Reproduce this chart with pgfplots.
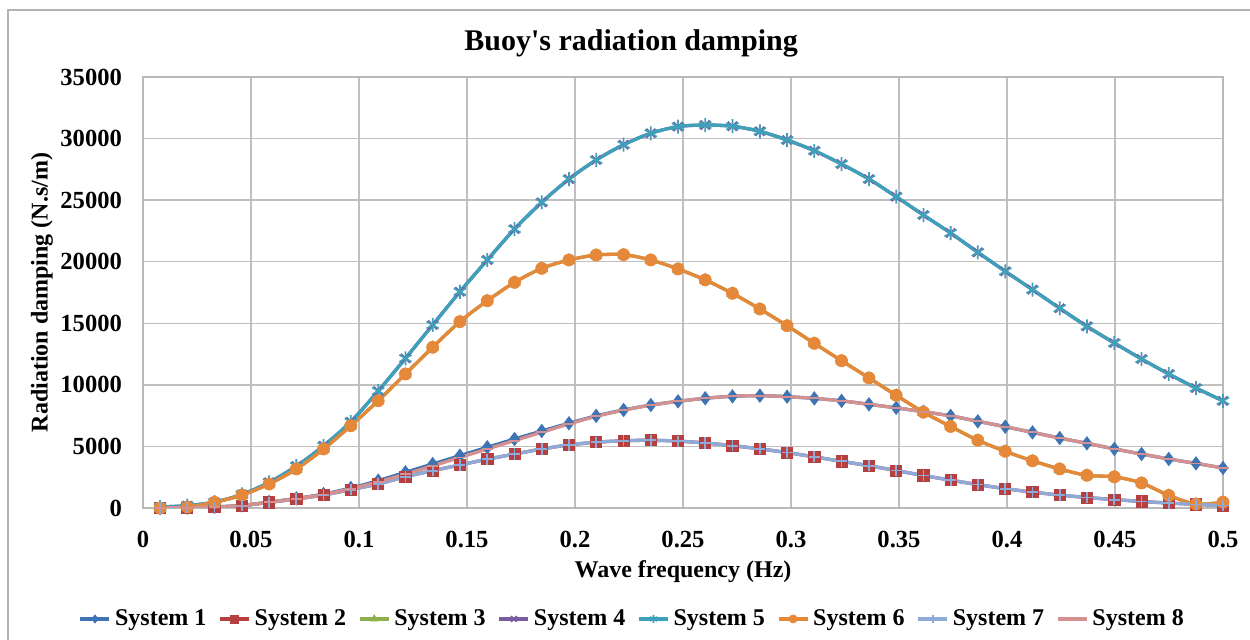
\documentclass[border=0pt]{standalone}
\usepackage{fontspec}
\setmainfont{Liberation Serif}
\newfontfamily\titlefont{Liberation Serif}
\usepackage{pgfplots}
\pgfplotsset{compat=1.18}
\usepackage{pgfplotstable}

\definecolor{c1}{HTML}{3E74B4}
\definecolor{c2}{HTML}{B5403F}
\definecolor{c3}{HTML}{8DB04C}
\definecolor{c4}{HTML}{7A5DA0}
\definecolor{c5}{HTML}{3FA0BA}
\definecolor{c6}{HTML}{E5883A}
\definecolor{c7}{HTML}{8EAAD8}
\definecolor{c8}{HTML}{D4918F}

\pgfplotstableread{
f      s1    s2    s5     s6     s7    s8
0.0079 0     0     80     0      0     0
0.0205 30    10    190    80     10    30
0.0331 90    60    480    460    60    90
0.0458 210   190   1100   1050   190   200
0.0584 480   460   2080   1950   460   470
0.0710 780   730   3400   3170   730   760
0.0836 1130  1060  5050   4790   1060  1100
0.0962 1620  1490  7000   6680   1490  1560
0.1089 2220  1950  9500   8710   1950  2120
0.1215 2900  2540  12150  10880  2540  2750
0.1341 3570  3030  14860  13050  3030  3420
0.1467 4250  3490  17560  15130  3490  4100
0.1594 4930  3960  20140  16830  3960  4790
0.1720 5600  4380  22650  18320  4380  5470
0.1846 6250  4790  24820  19460  4790  6150
0.1972 6880  5120  26710  20140  5120  6820
0.2098 7480  5340  28260  20540  5340  7440
0.2225 7960  5460  29500  20570  5460  7940
0.2351 8360  5500  30430  20140  5500  8350
0.2477 8660  5430  30970  19410  5430  8660
0.2603 8910  5280  31100  18520  5280  8910
0.2729 9070  5060  31000  17430  5060  9070
0.2856 9120  4800  30590  16160  4800  9120
0.2982 9040  4500  29880  14800  4500  9040
0.3108 8900  4150  29010  13370  4150  8900
0.3234 8700  3790  27930  11960  3790  8700
0.3361 8420  3430  26710  10560  3430  8420
0.3487 8130  3040  25280  9150   3040  8130
0.3613 7820  2640  23790  7780   2640  7820
0.3739 7480  2260  22330  6620   2260  7480
0.3865 7040  1900  20760  5500   1900  7040
0.3992 6600  1570  19220  4600   1570  6600
0.4118 6140  1290  17730  3830   1290  6140
0.4244 5680  1050  16220  3170   1050  5680
0.4370 5250  850   14750  2650   850   5250
0.4497 4800  680   13400  2530   680   4800
0.4623 4380  530   12100  2030   530   4380
0.4749 3980  400   10880  1020   400   3980
0.4875 3620  290   9740   320    290   3620
0.5000 3250  200   8700   470    200   3250
}\data

\begin{document}
\begin{tikzpicture}
\useasboundingbox (0,0) rectangle (625pt,320pt);
\draw[gray!60, line width=0.8pt] (4pt,-1pt) -- (4pt,315pt) -- (626pt,315pt);
\begin{axis}[
  at={(71.5pt,66pt)}, anchor=south west,
  width=540pt, height=215.5pt, scale only axis,
  xmin=0, xmax=0.5, ymin=0, ymax=35000,
  xtick={0,0.05,0.1,0.15,0.2,0.25,0.3,0.35,0.4,0.45,0.5},
  ytick={0,5000,10000,15000,20000,25000,30000,35000},
  grid=major, major grid style={gray!50, line width=0.7pt},
  axis line style={gray!55, line width=0.7pt},
  major tick length=0pt,
  scaled y ticks=false, scaled x ticks=false,
  /pgf/number format/assume math mode=true,
  ticklabel style={font=\bfseries\fontsize{12.3}{14}\selectfont},
  xticklabel style={/pgf/number format/fixed, /pgf/number format/precision=2, yshift=-8pt},
  yticklabel style={/pgf/number format/fixed, /pgf/number format/1000 sep={}, xshift=-7pt},
  title={Buoy's radiation damping},
  title style={at={(rel axis cs:0.452,1)}, anchor=center, yshift=11pt, font=\titlefont\bfseries\fontsize{15}{17}\selectfont},
  xlabel={Wave frequency (Hz)},
  xlabel style={at={(rel axis cs:0.5,0)}, anchor=center, yshift=-32pt, font=\bfseries\fontsize{12}{14}\selectfont},
  ylabel={Radiation damping (N.s/m)},
  ylabel style={at={(axis description cs:-0.0935,0.5)}, anchor=center, font=\bfseries\fontsize{12}{14}\selectfont},
  legend style={at={(0.454,-0.2575)}, anchor=center, draw=none, fill=none, legend columns=8,
    font=\bfseries\fontsize{12}{14}\selectfont,
    /tikz/every even column/.append style={column sep=4pt}},
  legend image code/.code={\draw[mark repeat=2,mark phase=2,#1] plot coordinates {(0pt,0pt) (7.25pt,0pt) (14.5pt,0pt)};},
  legend image post style={mark size=2pt},
  every axis plot/.append style={line width=1.65pt, smooth},
]
\addplot[c1, mark=diamond*, mark size=3.3pt, mark options={solid, fill=c1, line width=0.4pt}] table[x=f, y=s1] {\data};
\addlegendentry{System 1}
\addplot[c2, mark=square*, mark size=2.8pt, mark options={solid, fill=c2, line width=0.4pt}] table[x=f, y=s2] {\data};
\addlegendentry{System 2}
\addplot[c3, mark=triangle*, mark size=3.2pt, mark options={solid, fill=c3, line width=0.4pt}] table[x=f, y=s6] {\data};
\addlegendentry{System 3}
\addplot[c4, mark=x, mark size=3.2pt, mark options={solid, line width=0.9pt}] table[x=f, y=s5] {\data};
\addlegendentry{System 4}
\addplot[c5, mark=asterisk, mark size=3.5pt, mark options={solid, line width=0.9pt}] table[x=f, y=s5] {\data};
\addlegendentry{System 5}
\addplot[c6, mark=*, mark size=3pt, mark options={solid, fill=c6, line width=0.4pt}] table[x=f, y=s6] {\data};
\addlegendentry{System 6}
\addplot[c7, mark=+, mark size=2.8pt, mark options={solid, line width=0.9pt}] table[x=f, y=s7] {\data};
\addlegendentry{System 7}
\addplot[c8, mark=-, mark size=2.8pt, mark options={solid, line width=0.9pt}] table[x=f, y=s8] {\data};
\addlegendentry{System 8}
\end{axis}
\end{tikzpicture}
\end{document}
